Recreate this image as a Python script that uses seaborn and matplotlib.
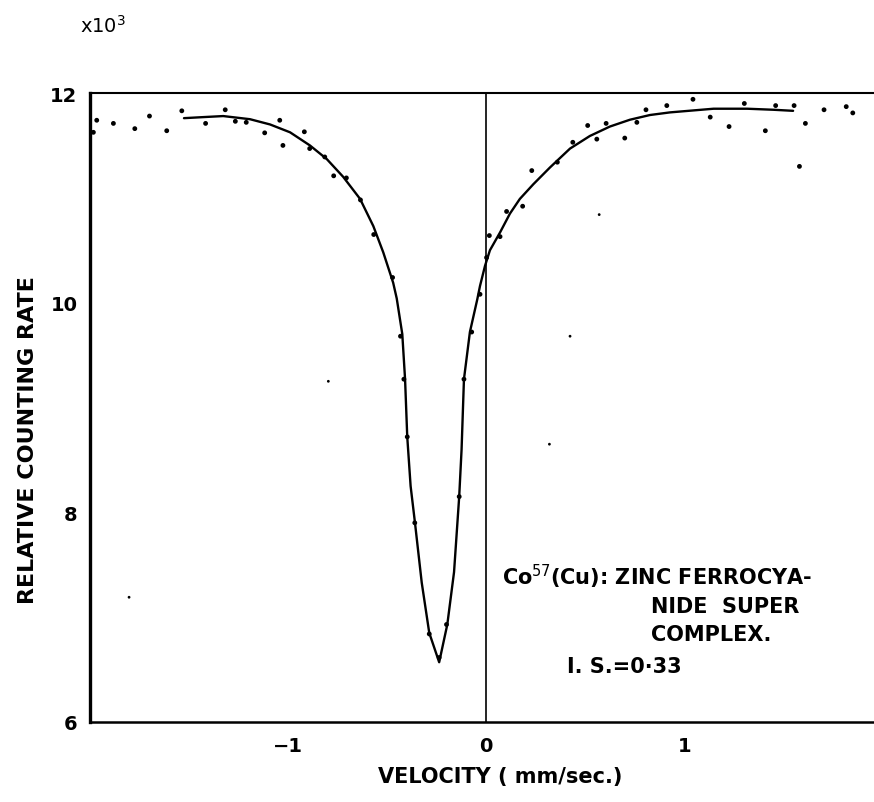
import matplotlib
matplotlib.use("Agg")
import matplotlib.pyplot as plt
import seaborn as sns
import pandas as pd

# ---- data ----
pts_x = [-1.98, -1.963, -1.879, -1.771, -1.697, -1.61, -1.534, -1.414, -1.315, -1.264,
         -1.209, -1.116, -1.04, -1.024, -0.916, -0.889, -0.813, -0.768, -0.704, -0.633,
         -0.566, -0.471, -0.431, -0.414, -0.397, -0.359, -0.286, -0.236, -0.199, -0.135,
         -0.111, -0.072, -0.03, 0.003, 0.017, 0.071, 0.104, 0.185, 0.231, 0.36,
         0.438, 0.513, 0.559, 0.606, 0.70, 0.761, 0.807, 0.912, 1.044, 1.131,
         1.226, 1.303, 1.409, 1.461, 1.554, 1.581, 1.611, 1.705, 1.817, 1.85]
pts_y = [11.625, 11.74, 11.71, 11.66, 11.78, 11.64, 11.83, 11.71, 11.84, 11.73,
         11.72, 11.62, 11.74, 11.50, 11.63, 11.47, 11.39, 11.21, 11.19, 10.98,
         10.65, 10.24, 9.68, 9.27, 8.72, 7.90, 6.84, 6.615, 6.93, 8.15,
         9.27, 9.72, 10.08, 10.43, 10.64, 10.63, 10.87, 10.92, 11.26, 11.34,
         11.53, 11.69, 11.56, 11.71, 11.57, 11.72, 11.84, 11.88, 11.94, 11.77,
         11.68, 11.90, 11.64, 11.88, 11.88, 11.30, 11.71, 11.84, 11.87, 11.81]

speck_x = [0.571, 0.424, 0.32, -0.795, -1.80]
speck_y = [10.84, 9.68, 8.65, 9.25, 7.19]

curve_x = [-1.523, -1.426, -1.325, -1.19, -1.089, -0.988, -0.888, -0.803, -0.72, -0.635,
           -0.568, -0.518, -0.468, -0.450, -0.422, -0.408, -0.397, -0.380, -0.358, -0.324,
           -0.286, -0.236, -0.195, -0.161, -0.135, -0.123, -0.111, -0.081, -0.044, -0.030,
           -0.005, 0.020, 0.071, 0.121, 0.171, 0.239, 0.323, 0.424, 0.524, 0.625,
           0.726, 0.827, 0.928, 1.148, 1.317, 1.451, 1.549]
curve_y = [11.76, 11.77, 11.78, 11.75, 11.70, 11.625, 11.50, 11.37, 11.20, 10.99,
           10.73, 10.48, 10.19, 10.04, 9.70, 9.27, 8.72, 8.25, 7.90, 7.33,
           6.85, 6.57, 6.93, 7.43, 8.15, 8.60, 9.27, 9.72, 10.03, 10.16,
           10.35, 10.50, 10.67, 10.85, 10.99, 11.13, 11.29, 11.47, 11.59, 11.68,
           11.745, 11.79, 11.815, 11.85, 11.85, 11.84, 11.83]

x_ticks = [-1, 0, 1]
y_ticks = [6, 8, 10, 12]
x_label = "VELOCITY ( mm/sec.)"
y_label = "RELATIVE COUNTING RATE"
note_lines = ["Co$^{57}$(Cu): ZINC FERROCYA-", "NIDE  SUPER", "COMPLEX.", "I. S.=0·33"]

sns.set_theme(style="white")
plt.rcParams['font.family'] = ['DejaVu Sans']
plt.rcParams['mathtext.fontset'] = 'dejavusans'
plt.rcParams['text.color'] = 'black'

W, H = 874, 803
fig = plt.figure(figsize=(W / 100, H / 100), dpi=100)
ax = fig.add_axes([90 / W, 80 / H, 784 / W, 629 / H])

pts = pd.DataFrame({"v": pts_x, "r": pts_y})
spk = pd.DataFrame({"v": speck_x, "r": speck_y})
crv = pd.DataFrame({"v": curve_x, "r": curve_y})

sns.scatterplot(data=pts, x="v", y="r", ax=ax, s=12, color="black", edgecolor="none")
sns.scatterplot(data=spk, x="v", y="r", ax=ax, s=4, color="black", edgecolor="none")
sns.lineplot(data=crv, x="v", y="r", ax=ax, sort=False, estimator=None,
             color="black", linewidth=1.7, solid_joinstyle="round")
ax.axvline(0, color="black", linewidth=1.2)

ax.set_xlim(-1.997, 1.957)
ax.set_ylim(6, 12)
ax.set_xticks(x_ticks)
ax.set_yticks(y_ticks)
ax.set_xticklabels([("−" if t < 0 else "") + str(abs(t)) for t in x_ticks])
ax.set_xlabel("")
ax.set_ylabel("")
ax.tick_params(axis="x", direction="in", length=14, width=1.3, labelsize=14, pad=10,
               color="black", labelcolor="black")
ax.tick_params(axis="y", direction="in", length=15, width=1.3, labelsize=14, pad=9,
               color="black", labelcolor="black")
for lab in ax.get_xticklabels() + ax.get_yticklabels():
    lab.set_fontweight("bold")

ax.spines["right"].set_visible(False)
ax.spines["left"].set_linewidth(2.4)
ax.spines["bottom"].set_linewidth(1.8)
ax.spines["top"].set_linewidth(1.5)
for s in ("left", "bottom", "top"):
    ax.spines[s].set_color("black")

fig.text(28 / W, 1 - 440 / H, y_label, rotation=90, ha="center", va="center",
         fontsize=16, fontweight="bold", color="black")
fig.text(500 / W, 1 - 777 / H, x_label, ha="center", va="center",
         fontsize=15, fontweight="bold", color="black")
fig.text(80 / W, 1 - 33 / H, r"x$10^3$", ha="left", va="baseline", fontsize=14,
         color="black")

note_pos = [(502, 585), (651, 613), (651, 641), (567, 673)]
for (px, py), line in zip(note_pos, note_lines):
    fig.text(px / W, 1 - py / H, line, ha="left", va="baseline", fontsize=15,
             fontweight="bold", color="black")

fig.savefig("out.png", dpi=100, facecolor="white")
